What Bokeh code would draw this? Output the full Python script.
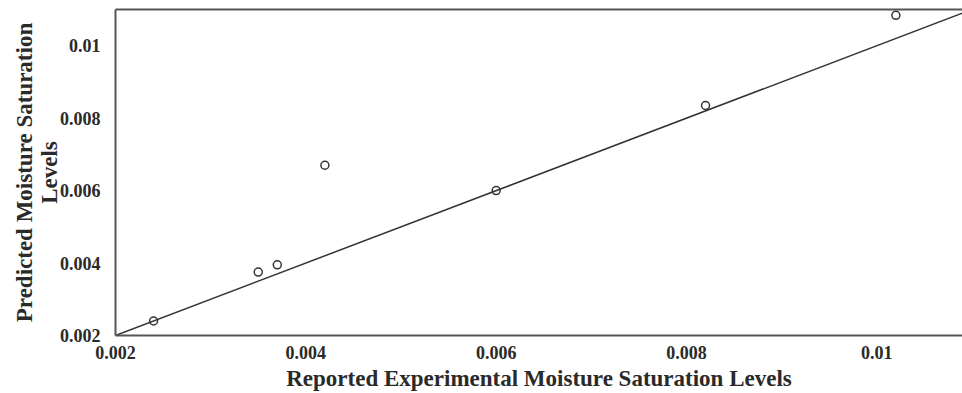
from bokeh.plotting import figure
from bokeh.models import Range1d, FixedTicker, NumeralTickFormatter, LinearAxis
from bokeh.embed import file_html
from bokeh.resources import INLINE

# Data
experimental = [0.0024, 0.0035, 0.0037, 0.0042, 0.0060, 0.0082, 0.0102]
predicted = [0.0024, 0.00375, 0.00395, 0.0067, 0.0060, 0.00835, 0.01084]
ref_line_x = [0.002, 0.011]
ref_line_y = [0.002, 0.011]
ticks = [0.002, 0.004, 0.006, 0.008, 0.01]

FONT = "Liberation Serif"
TXT = "#2a2a2a"

p = figure(width=962, height=393, output_backend="svg", toolbar_location=None,
           x_range=Range1d(0.002, 0.0109), y_range=Range1d(0.002, 0.011),
           min_border_left=115, min_border_top=9, min_border_right=0, min_border_bottom=56)
p.outline_line_color = None
p.xgrid.grid_line_color = None
p.ygrid.grid_line_color = None

p.line(ref_line_x, ref_line_y, line_color="#333333", line_width=1.5)
p.scatter(experimental, predicted, marker="circle", size=8, fill_color=None,
          line_color="#333333", line_width=1.5)

for ax in (p.xaxis[0], p.yaxis[0]):
    ax.ticker = FixedTicker(ticks=ticks)
    ax.formatter = NumeralTickFormatter(format="0.[000]")
    ax.major_tick_out = 0
    ax.major_tick_in = 0
    ax.minor_tick_out = 0
    ax.minor_tick_in = 0
    ax.axis_line_color = "#555555"
    ax.axis_line_width = 2
    ax.major_label_text_font = FONT
    ax.major_label_text_font_style = "bold"
    ax.major_label_text_font_size = "18px"
    ax.major_label_text_color = TXT
    ax.axis_label_text_font = FONT
    ax.axis_label_text_font_style = "bold"
    ax.axis_label_text_color = TXT

p.xaxis[0].axis_label = "Reported Experimental Moisture Saturation Levels"
p.xaxis[0].axis_label_text_font_size = "23px"
p.xaxis[0].major_label_standoff = 10
p.xaxis[0].axis_label_standoff = 4
p.yaxis[0].axis_label = "Predicted Moisture Saturation\nLevels"
p.yaxis[0].axis_label_text_font_size = "23px"
p.yaxis[0].axis_label_text_line_height = 1.0
p.yaxis[0].major_label_standoff = 15
p.yaxis[0].axis_label_standoff = -5

top = LinearAxis(ticker=FixedTicker(ticks=[]), major_label_text_font_size="0px",
                 axis_line_color="#555555", axis_line_width=2,
                 major_tick_out=0, minor_tick_out=0)
p.add_layout(top, "above")

open("out.html", "w").write(file_html(p, INLINE))
